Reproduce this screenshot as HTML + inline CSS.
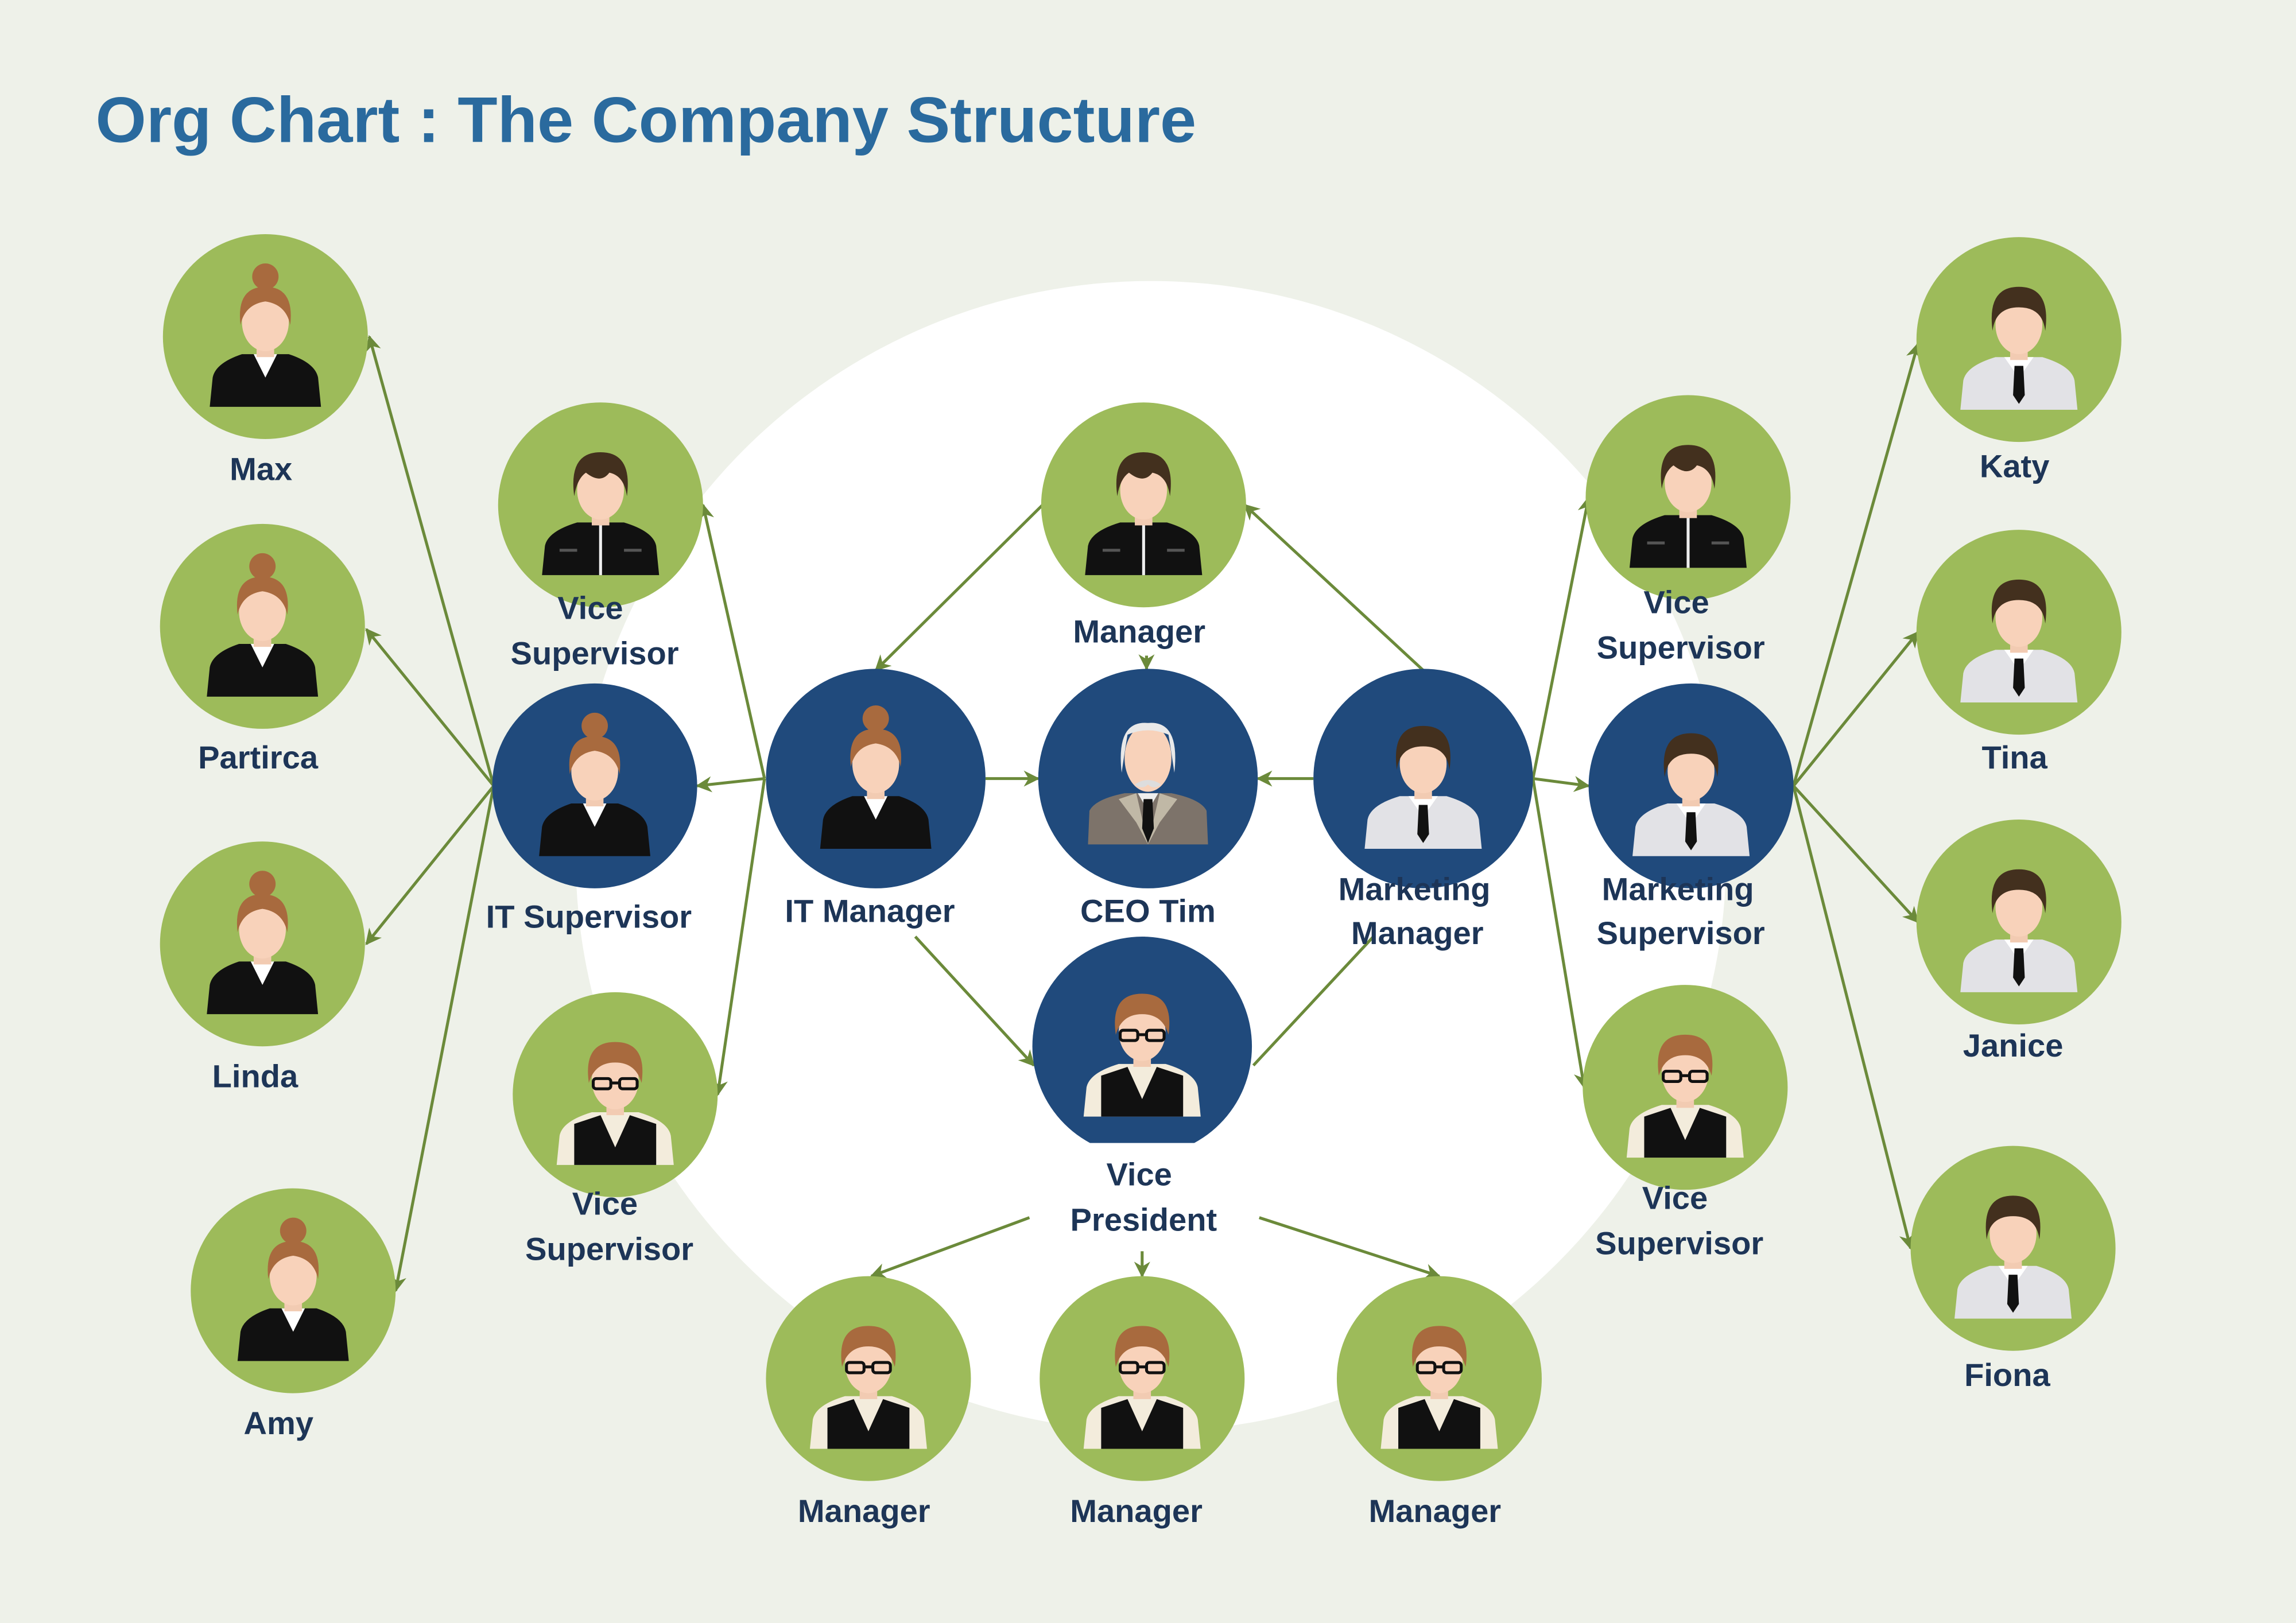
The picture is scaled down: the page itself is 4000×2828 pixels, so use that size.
<!DOCTYPE html>
<html><head><meta charset="utf-8"><style>
html,body{margin:0;padding:0;background:#eef1e9;}
svg{display:block;}
text{font-family:"Liberation Sans",sans-serif;font-weight:bold;}
</style></head><body>
<svg width="4000" height="2828" viewBox="0 0 1568 1109" xmlns="http://www.w3.org/2000/svg">
<defs>
<marker id="a" viewBox="0 0 10 10" refX="9" refY="5" markerWidth="11" markerHeight="11" orient="auto" markerUnits="userSpaceOnUse"><path d="M0,0 L10,5 L0,10 L3,5 Z" fill="#6b8a3a"/></marker>
<g id="woman">
<circle cx="0" cy="-41" r="9" fill="#a86a3e"/>
<path d="M-38,48 L-36,28 Q-34,18 -16,12 L16,12 Q34,18 36,28 L38,48 Z" fill="#111"/>
<path d="M-8,12 L0,28 L8,12 Z" fill="#fff"/>
<rect x="-6" y="2" width="12" height="12" fill="#f2cbb2"/>
<ellipse cx="0" cy="-10" rx="16" ry="20" fill="#f8d2ba"/>
<path d="M-17,-8 Q-20,-34 0,-34 Q20,-34 17,-8 Q14,-22 0,-24 Q-14,-22 -17,-8Z" fill="#a86a3e"/>
</g>
<g id="mandark">
<path d="M-40,48 L-38,28 Q-36,18 -16,12 L16,12 Q36,18 38,28 L40,48 Z" fill="#111"/>
<rect x="-1" y="12" width="2" height="36" fill="#eee"/>
<rect x="-28" y="30" width="12" height="2" fill="#555"/><rect x="16" y="30" width="12" height="2" fill="#555"/>
<rect x="-6" y="2" width="12" height="12" fill="#f2cbb2"/>
<ellipse cx="0" cy="-10" rx="16" ry="20" fill="#f8d2ba"/>
<path d="M-18,-6 Q-22,-36 0,-36 Q22,-36 18,-6 Q16,-20 6,-22 Q0,-14 -10,-22 Q-16,-18 -18,-6Z" fill="#43301e"/>
</g>
<g id="manglass">
<path d="M-40,48 L-38,28 Q-36,18 -16,12 L16,12 Q36,18 38,28 L40,48 Z" fill="#f3ecdc"/>
<path d="M-28,48 L-28,20 L-10,14 L0,36 L10,14 L28,20 L28,48 Z" fill="#111"/>
<rect x="-6" y="2" width="12" height="12" fill="#f2cbb2"/>
<ellipse cx="0" cy="-10" rx="16" ry="20" fill="#f8d2ba"/>
<path d="M-18,-8 Q-22,-36 0,-36 Q22,-36 18,-8 Q14,-22 0,-22 Q-14,-22 -18,-8Z" fill="#a86a3e"/>
<rect x="-15" y="-11" width="12" height="7" rx="2" fill="none" stroke="#111" stroke-width="2"/>
<rect x="3" y="-11" width="12" height="7" rx="2" fill="none" stroke="#111" stroke-width="2"/>
<line x1="-3" y1="-8" x2="3" y2="-8" stroke="#111" stroke-width="2"/>
</g>
<g id="manwhite">
<path d="M-40,48 L-38,28 Q-36,18 -16,12 L16,12 Q36,18 38,28 L40,48 Z" fill="#e2e2e6"/>
<path d="M-10,12 L-3,22 L3,22 L10,12Z" fill="#fff"/>
<path d="M-3,18 L3,18 L4,38 L0,44 L-4,38Z" fill="#111"/>
<rect x="-6" y="2" width="12" height="12" fill="#f2cbb2"/>
<ellipse cx="0" cy="-10" rx="16" ry="20" fill="#f8d2ba"/>
<path d="M-18,-6 Q-22,-36 0,-36 Q22,-36 18,-6 Q16,-22 0,-22 Q-16,-22 -18,-6Z" fill="#43301e"/>
</g>
<g id="ceo">
<path d="M-41,45 L-40,22 Q-36,14 -16,10 L16,10 Q36,14 40,22 L41,45 Z" fill="#7d736a"/>
<path d="M-20,14 L-8,10 L0,45 L8,10 L20,14 L8,30 L0,45 L-8,30Z" fill="#c0b8a6"/>
<path d="M-7,10 L0,22 L7,10Z" fill="#eee"/>
<path d="M-3,14 L3,14 L4,34 L0,44 L-4,34Z" fill="#111"/>
<ellipse cx="0" cy="-14" rx="16" ry="23" fill="#f8d2ba"/>
<path d="M-18,-4 Q-22,-40 0,-38 Q22,-40 18,-4 Q16,-18 14,-30 Q0,-36 -14,-30 Q-16,-18 -18,-4Z" fill="#e9e9e9"/>
<path d="M-9,4 Q0,-2 9,4 Q4,8 0,4 Q-4,8 -9,4Z" fill="#ddd"/>
</g>
</defs>
<rect width="1568" height="1109" fill="#eef1e9"/>
<circle cx="786" cy="585" r="393" fill="#fff"/>
<text x="65" y="97" font-size="44" fill="#2a6a9e" textLength="752" lengthAdjust="spacingAndGlyphs">Org Chart : The Company Structure</text>

<g stroke="#6b8a3a" stroke-width="2" fill="none" marker-end="url(#a)">
<line x1="337" y1="537" x2="252" y2="230"/>
<line x1="337" y1="537" x2="250" y2="430"/>
<line x1="337" y1="537" x2="250" y2="645"/>
<line x1="337" y1="537" x2="270" y2="882"/>
<line x1="522" y1="532" x2="476" y2="537"/>
<line x1="522" y1="532" x2="480" y2="345"/>
<line x1="522" y1="532" x2="490" y2="748"/>
<line x1="673" y1="532" x2="709" y2="532"/>
<line x1="897" y1="532" x2="859" y2="532"/>
<line x1="712" y1="345" x2="598" y2="458"/>
<line x1="972" y1="458" x2="850" y2="345"/>
<line x1="783" y1="448" x2="783" y2="457"/>
<line x1="625" y1="640" x2="706" y2="728"/>
<line x1="703" y1="832" x2="595" y2="872"/>
<line x1="780" y1="855" x2="780" y2="872"/>
<line x1="860" y1="832" x2="983" y2="872"/>
<line x1="1047" y1="532" x2="1085" y2="537"/>
<line x1="1047" y1="532" x2="1085" y2="340"/>
<line x1="1047" y1="532" x2="1082" y2="743"/>
<line x1="1225" y1="537" x2="1310" y2="235"/>
<line x1="1225" y1="537" x2="1310" y2="432"/>
<line x1="1225" y1="537" x2="1310" y2="630"/>
<line x1="1225" y1="537" x2="1305" y2="853"/>
</g>
<g stroke="#6b8a3a" stroke-width="2">
<line x1="938" y1="640" x2="856" y2="728"/>
<line x1="781" y1="640" x2="781" y2="655"/>
</g>

<g>
<circle cx="181" cy="230" r="70" fill="#9dbb5a"/><use href="#woman" x="181" y="230"/>
<circle cx="179" cy="428" r="70" fill="#9dbb5a"/><use href="#woman" x="179" y="428"/>
<circle cx="179" cy="645" r="70" fill="#9dbb5a"/><use href="#woman" x="179" y="645"/>
<circle cx="200" cy="882" r="70" fill="#9dbb5a"/><use href="#woman" x="200" y="882"/>
<circle cx="410" cy="345" r="70" fill="#9dbb5a"/><use href="#mandark" x="410" y="345"/>
<circle cx="406" cy="537" r="70" fill="#204a7c"/><use href="#woman" x="406" y="537"/>
<circle cx="420" cy="748" r="70" fill="#9dbb5a"/><use href="#manglass" x="420" y="748"/>
<circle cx="598" cy="532" r="75" fill="#204a7c"/><use href="#woman" x="598" y="532"/>
<circle cx="781" cy="345" r="70" fill="#9dbb5a"/><use href="#mandark" x="781" y="345"/>
<circle cx="784" cy="532" r="75" fill="#204a7c"/><use href="#ceo" x="784" y="532"/>
<circle cx="972" cy="532" r="75" fill="#204a7c"/><use href="#manwhite" x="972" y="532"/>
<circle cx="780" cy="715" r="75" fill="#204a7c"/><use href="#manglass" x="780" y="715"/>
<rect x="700" y="781" width="160" height="12" fill="#fff"/>
<circle cx="1153" cy="340" r="70" fill="#9dbb5a"/><use href="#mandark" x="1153" y="340"/>
<circle cx="1155" cy="537" r="70" fill="#204a7c"/><use href="#manwhite" x="1155" y="537"/>
<circle cx="1151" cy="743" r="70" fill="#9dbb5a"/><use href="#manglass" x="1151" y="743"/>
<circle cx="1379" cy="232" r="70" fill="#9dbb5a"/><use href="#manwhite" x="1379" y="232"/>
<circle cx="1379" cy="432" r="70" fill="#9dbb5a"/><use href="#manwhite" x="1379" y="432"/>
<circle cx="1379" cy="630" r="70" fill="#9dbb5a"/><use href="#manwhite" x="1379" y="630"/>
<circle cx="1375" cy="853" r="70" fill="#9dbb5a"/><use href="#manwhite" x="1375" y="853"/>
<circle cx="593" cy="942" r="70" fill="#9dbb5a"/><use href="#manglass" x="593" y="942"/>
<circle cx="780" cy="942" r="70" fill="#9dbb5a"/><use href="#manglass" x="780" y="942"/>
<circle cx="983" cy="942" r="70" fill="#9dbb5a"/><use href="#manglass" x="983" y="942"/>
</g>

<g font-size="22" fill="#1d3557" text-anchor="middle">
<text x="178" y="328">Max</text>
<text x="176" y="525">Partirca</text>
<text x="174" y="743">Linda</text>
<text x="190" y="980">Amy</text>
<text x="403" y="423">Vice</text><text x="406" y="454">Supervisor</text>
<text x="402" y="634">IT Supervisor</text>
<text x="413" y="830">Vice</text><text x="416" y="861">Supervisor</text>
<text x="594" y="630">IT Manager</text>
<text x="778" y="439">Manager</text>
<text x="784" y="630">CEO Tim</text>
<text x="966" y="615">Marketing</text><text x="968" y="645">Manager</text>
<text x="778" y="810">Vice</text><text x="781" y="841">President</text>
<text x="1145" y="419">Vice</text><text x="1148" y="450">Supervisor</text>
<text x="1146" y="615">Marketing</text><text x="1148" y="645">Supervisor</text>
<text x="1144" y="826">Vice</text><text x="1147" y="857">Supervisor</text>
<text x="1376" y="326">Katy</text>
<text x="1376" y="525">Tina</text>
<text x="1375" y="722">Janice</text>
<text x="1371" y="947">Fiona</text>
<text x="590" y="1040">Manager</text>
<text x="776" y="1040">Manager</text>
<text x="980" y="1040">Manager</text>
</g>
</svg>
</body></html>
